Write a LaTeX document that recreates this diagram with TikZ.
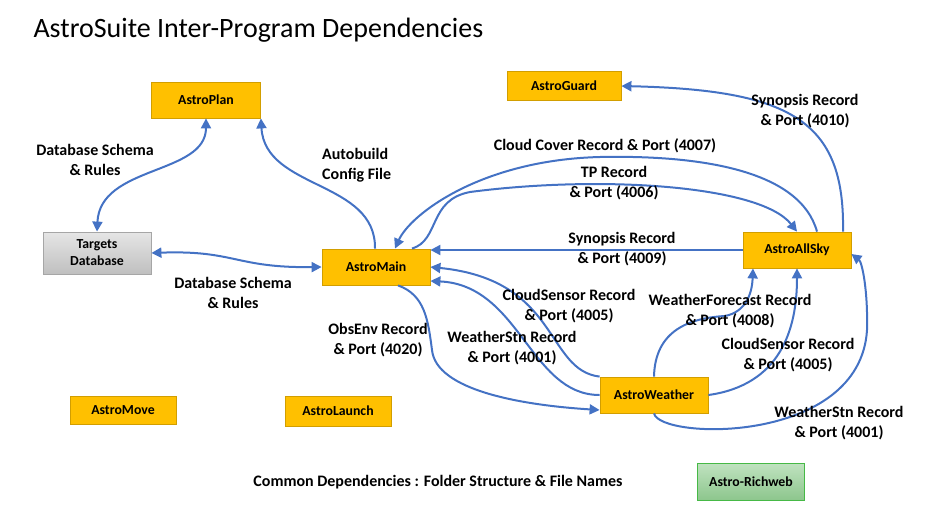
\documentclass[tikz,border=0pt]{standalone}
\usepackage{fontspec}
\setmainfont{Carlito}
\usetikzlibrary{arrows.meta}
\definecolor{progfill}{HTML}{FFC000}
\definecolor{progline}{HTML}{D29E00}
\definecolor{linkblue}{HTML}{4472C4}

\begin{document}
\begin{tikzpicture}[x=1pt,y=-1pt,
    prog/.style={draw=progline, fill=progfill, line width=0.8pt, minimum width=108pt,
      minimum height=36pt, inner sep=0pt, align=center,
      font=\fontsize{13.8}{17}\selectfont\bfseries},
    link/.style={draw=linkblue, line width=2pt, -{Triangle[length=10pt,width=10pt]}},
    lbl/.style={align=center, inner sep=0pt, font=\fontsize{16}{19.5}\selectfont\bfseries}]
  \useasboundingbox (0,0) rectangle (949,530);

  % title
  \node[anchor=west, font=\fontsize{28}{32}\selectfont] (title) at (30,30) {AstroSuite Inter-Program Dependencies};

  % programs
  \node[prog, minimum width=109pt] (plan) at (206,100) {AstroPlan};
  \node[prog, draw=gray!70, top color=gray!20, bottom color=gray!50, minimum height=42pt] (targets) at (97,253) {Targets\\Database};
  \node[prog] (main) at (376,267) {AstroMain};
  \node[prog, minimum width=114pt, minimum height=29pt] (guard) at (564,86) {AstroGuard};
  \node[prog] (allsky) at (797,250) {AstroAllSky};
  \node[prog] (weather) at (654,395) {AstroWeather};
  \node[prog, minimum width=106pt, minimum height=28pt] (move) at (123,410) {AstroMove};
  \node[prog, minimum width=106pt, minimum height=30pt] (launch) at (338,411) {AstroLaunch};
  \node[prog, draw=green!45!gray, top color=green!55!black!25, bottom color=green!50!black!45, minimum width=107pt, minimum height=37pt] (richweb) at (751,482) {Astro-Richweb};

  % links
  \draw[link, {Triangle[length=10pt,width=10pt]}-{Triangle[length=10pt,width=10pt]}] (plan.south) .. controls (206,175) and (100,165) .. (targets.north);
  \draw[link] ([xshift=-1pt]main.north) .. controls (376,180) and (265,190) .. (plan.south east);
  \draw[link, {Triangle[length=10pt,width=10pt]}-{Triangle[length=10pt,width=10pt]}] (targets.east) .. controls (235,250) and (235,268) .. (main.west);
  \draw[link] ([xshift=20pt]allsky.north) .. controls (800,170) and (700,155) .. (600,157)
    .. controls (480,160) and (410,215) .. ([xshift=19pt]main.north);
  \draw[link] ([xshift=36pt]main.north) .. controls (440,240) and (428,200) .. (470,192)
    .. controls (600,175) and (760,185) .. (allsky.north);
  \draw[link] ([xshift=46pt]allsky.north) .. controls (845,120) and (790,90) .. (guard.east);
  \draw[link] (allsky.west) -- (main.east |- allsky.west);
  \draw[link] (weather.north west) .. controls (545,370) and (560,280) .. (main.east);
  \draw[link] (weather.west) .. controls (530,395) and (520,285) .. ([yshift=-14pt]main.east);
  \draw[link] ([xshift=22pt]main.south) .. controls (425,295) and (428,320) .. (432,350)
    .. controls (436,390) and (520,405) .. ([yshift=-15pt]weather.west);
  \draw[link] (weather.north) .. controls (655,330) and (690,318) .. (725,316)
    .. controls (745,312) and (752,295) .. ([xshift=-44pt]allsky.south);
  \draw[link] (weather.east) .. controls (780,385) and (797,330) .. (allsky.south);
  \draw[link] (weather.south) .. controls (660,440) and (860,445) .. (867,330)
    .. controls (868,290) and (862,262) .. ([yshift=-4pt]allsky.east);

  % link labels
  \node[lbl] (schemaplan) at (95,160) {Database Schema\\\& Rules};
  \node[lbl, anchor=west, align=left] (autobuild) at (322,165) {Autobuild\\Config File};
  \node[lbl] (schemamain) at (233,293) {Database Schema\\\& Rules};
  \node[lbl] (cloudcover) at (605,146) {Cloud Cover Record \& Port (4007)};
  \node[lbl] (tprec) at (614,183) {TP Record\\\& Port (4006)};
  \node[lbl] (synguard) at (805,111) {Synopsis Record\\\& Port (4010)};
  \node[lbl] (synmain) at (622,249) {Synopsis Record\\\& Port (4009)};
  \node[lbl] (cloudmain) at (569,306) {CloudSensor Record\\\& Port (4005)};
  \node[lbl] (forecast) at (730,311) {WeatherForecast Record\\\& Port (4008)};
  \node[lbl] (obsenv) at (378,340) {ObsEnv Record\\\& Port (4020)};
  \node[lbl] (stnmain) at (512,348) {WeatherStn Record\\\& Port (4001)};
  \node[lbl] (cloudsky) at (788,355) {CloudSensor Record\\\& Port (4005)};
  \node[lbl] (stnsky) at (839,423) {WeatherStn Record\\\& Port (4001)};
  \node[lbl] (common) at (438,482) {Common Dependencies : Folder Structure \& File Names};
\end{tikzpicture}
\end{document}
